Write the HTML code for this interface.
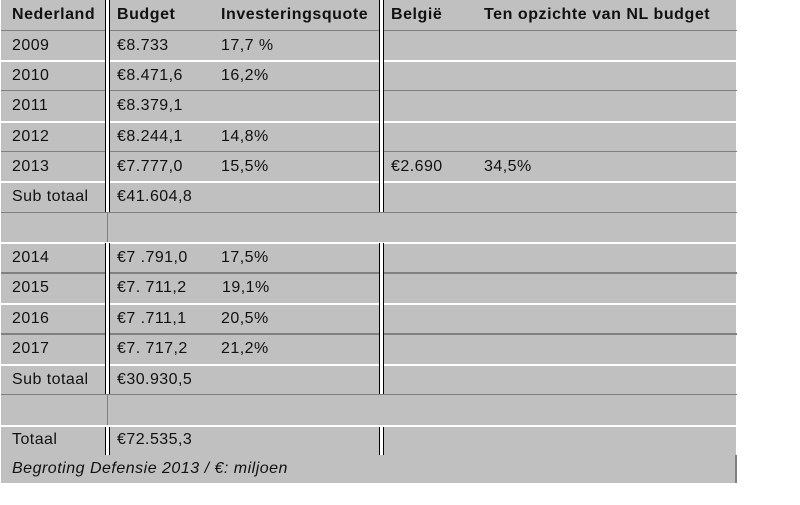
<!DOCTYPE html>
<html><head><meta charset="utf-8"><style>
body{margin:0;width:800px;height:505px;background:#fff;position:relative;overflow:hidden;font-family:"Liberation Sans",Arial,sans-serif;}
#bg{position:absolute;left:1px;top:0;width:735px;height:483px;background:#c0c0c0;}
.h{position:absolute;left:1px;width:736px;height:1px;}
.w{background:#fff;height:2px;}
.g{background:#808080;}
.d{background:#808080;height:2px;}
.v{position:absolute;width:3px;border-left:1px solid #000;border-right:1px solid #000;background:#fff;}
.t{position:absolute;font-size:16px;letter-spacing:0.45px;color:#111;line-height:16px;white-space:nowrap;}
.b{font-weight:bold;letter-spacing:0.55px;}
</style></head><body>
<div id="bg"></div>
<div class="h g" style="top:30px"></div>
<div class="h w" style="top:60px"></div>
<div class="h g" style="top:90px"></div>
<div class="h w" style="top:121px"></div>
<div class="h g" style="top:151px"></div>
<div class="h w" style="top:181px"></div>
<div class="h g" style="top:212px"></div>
<div class="h w" style="top:242px"></div>
<div class="h d" style="top:272px"></div>
<div class="h w" style="top:303px"></div>
<div class="h d" style="top:333px"></div>
<div class="h w" style="top:364px"></div>
<div class="h g" style="top:394px"></div>
<div class="h w" style="top:425px"></div>
<div style="position:absolute;left:735px;top:455px;width:2px;height:28px;background:#808080"></div>
<div class="v" style="left:105px;top:0;height:212px"></div>
<div style="position:absolute;left:107px;top:212px;width:1px;height:30px;background:#808080"></div>
<div class="v" style="left:105px;top:243px;height:151px"></div>
<div style="position:absolute;left:107px;top:395px;width:1px;height:30px;background:#808080"></div>
<div class="v" style="left:105px;top:427px;height:28px"></div>
<div class="v" style="left:379px;top:0;height:212px"></div>
<div class="v" style="left:379px;top:243px;height:151px"></div>
<div class="v" style="left:379px;top:427px;height:28px"></div>

<div class="t b" style="left:12px;top:7px">Nederland</div>
<div class="t b" style="left:117px;top:7px">Budget</div>
<div class="t b" style="left:221px;top:7px">Investeringsquote</div>
<div class="t b" style="left:391px;top:7px">België</div>
<div class="t b" style="left:484px;top:7px">Ten opzichte van NL budget</div>

<div class="t" style="left:12px;top:38px">2009</div><div class="t" style="left:117px;top:38px">€8.733</div><div class="t" style="left:221px;top:38px">17,7 %</div>
<div class="t" style="left:12px;top:68px">2010</div><div class="t" style="left:117px;top:68px">€8.471,6</div><div class="t" style="left:221px;top:68px">16,2%</div>
<div class="t" style="left:12px;top:98px">2011</div><div class="t" style="left:117px;top:98px">€8.379,1</div>
<div class="t" style="left:12px;top:129px">2012</div><div class="t" style="left:117px;top:129px">€8.244,1</div><div class="t" style="left:221px;top:129px">14,8%</div>
<div class="t" style="left:12px;top:159px">2013</div><div class="t" style="left:117px;top:159px">€7.777,0</div><div class="t" style="left:221px;top:159px">15,5%</div><div class="t" style="left:391px;top:159px">€2.690</div><div class="t" style="left:484px;top:159px">34,5%</div>
<div class="t" style="left:12px;top:189px">Sub totaal</div><div class="t" style="left:117px;top:189px">€41.604,8</div>
<div class="t" style="left:12px;top:250px">2014</div><div class="t" style="left:117px;top:250px">€7 .791,0</div><div class="t" style="left:221px;top:250px">17,5%</div>
<div class="t" style="left:12px;top:280px">2015</div><div class="t" style="left:117px;top:280px">€7. 711,2</div><div class="t" style="left:222px;top:280px">19,1%</div>
<div class="t" style="left:12px;top:311px">2016</div><div class="t" style="left:117px;top:311px">€7 .711,1</div><div class="t" style="left:221px;top:311px">20,5%</div>
<div class="t" style="left:12px;top:341px">2017</div><div class="t" style="left:117px;top:341px">€7. 717,2</div><div class="t" style="left:221px;top:341px">21,2%</div>
<div class="t" style="left:12px;top:372px">Sub totaal</div><div class="t" style="left:117px;top:372px">€30.930,5</div>
<div class="t" style="left:12px;top:432px">Totaal</div><div class="t" style="left:117px;top:432px">€72.535,3</div>
<div class="t" style="left:12px;top:461px;font-style:italic;letter-spacing:0.5px">Begroting Defensie 2013 / €: miljoen</div>
</body></html>
